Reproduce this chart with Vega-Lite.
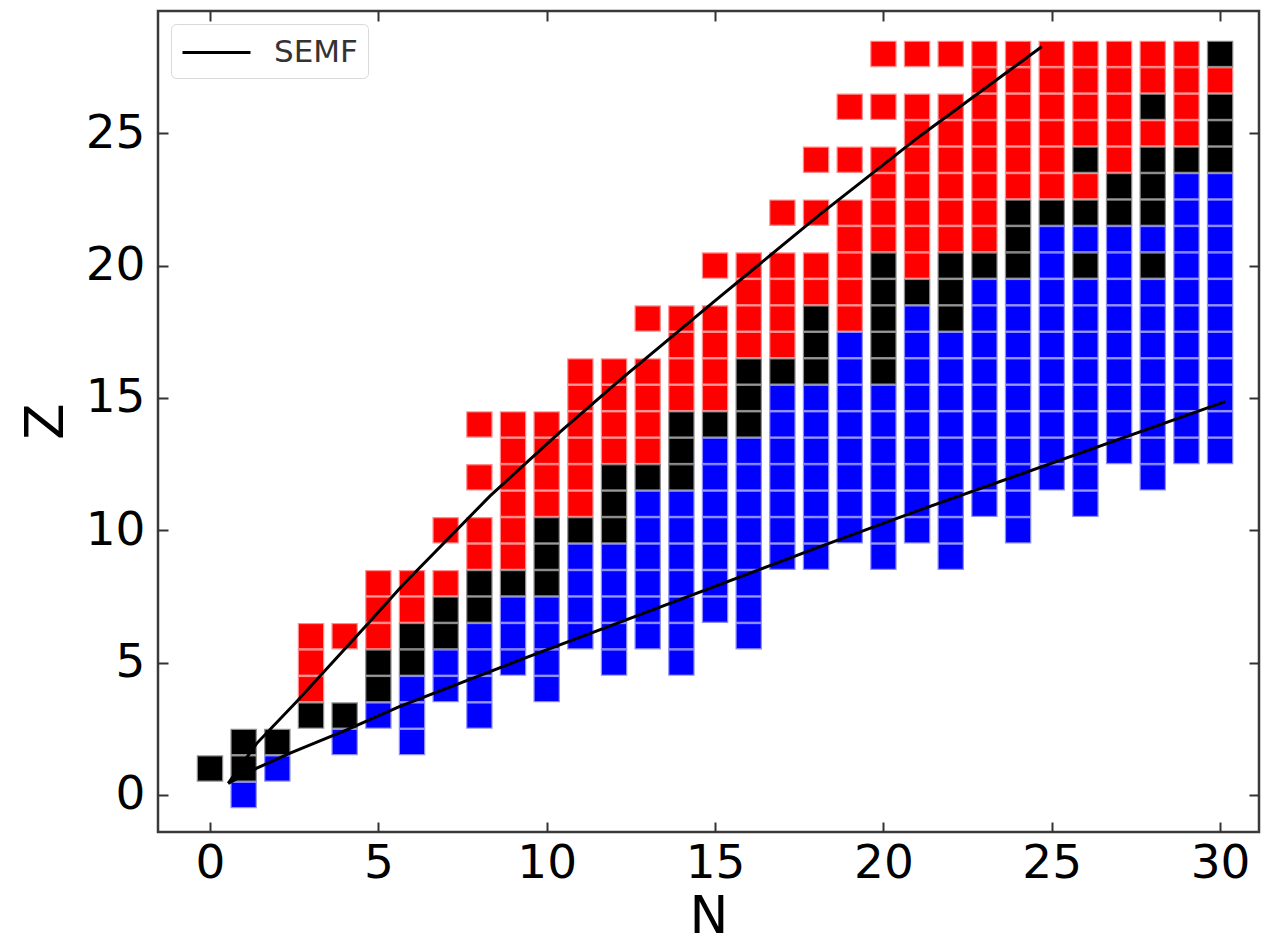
{
  "$schema": "https://vega.github.io/schema/vega-lite/v6.json",
  "width": 1101,
  "height": 821,
  "autosize": "none",
  "padding": {"left": 158, "top": 11, "right": 7, "bottom": 113},
  "background": "#ffffff",
  "config": {
    "view": {"stroke": "#3a3a3a", "strokeWidth": 2.5},
    "axis": {
      "grid": false, "domain": false, "ticks": true, "tickSize": 10, "tickWidth": 2, "tickColor": "#333333",
      "labelFont": "DejaVu Sans", "labelFontSize": 47, "labelColor": "#000000",
      "titleFont": "DejaVu Sans", "titleFontSize": 53, "titleFontWeight": "normal", "titleColor": "#000000",
      "offset": -10
    }
  },
  "datasets": {
    "nuclides": [
      {"N":0,"Z":1,"decay":"stable"},
      {"N":1,"Z":0,"decay":"beta-"},{"N":1,"Z":1,"decay":"stable"},{"N":1,"Z":2,"decay":"stable"},
      {"N":2,"Z":1,"decay":"beta-"},{"N":2,"Z":2,"decay":"stable"},
      {"N":3,"Z":3,"decay":"stable"},{"N":3,"Z":4,"decay":"beta+"},{"N":3,"Z":5,"decay":"beta+"},{"N":3,"Z":6,"decay":"beta+"},
      {"N":4,"Z":2,"decay":"beta-"},{"N":4,"Z":3,"decay":"stable"},{"N":4,"Z":6,"decay":"beta+"},
      {"N":5,"Z":3,"decay":"beta-"},{"N":5,"Z":4,"decay":"stable"},{"N":5,"Z":5,"decay":"stable"},{"N":5,"Z":6,"decay":"beta+"},{"N":5,"Z":7,"decay":"beta+"},{"N":5,"Z":8,"decay":"beta+"},
      {"N":6,"Z":2,"decay":"beta-"},{"N":6,"Z":3,"decay":"beta-"},{"N":6,"Z":4,"decay":"beta-"},{"N":6,"Z":5,"decay":"stable"},{"N":6,"Z":6,"decay":"stable"},{"N":6,"Z":7,"decay":"beta+"},{"N":6,"Z":8,"decay":"beta+"},
      {"N":7,"Z":4,"decay":"beta-"},{"N":7,"Z":5,"decay":"beta-"},{"N":7,"Z":6,"decay":"stable"},{"N":7,"Z":7,"decay":"stable"},{"N":7,"Z":8,"decay":"beta+"},{"N":7,"Z":10,"decay":"beta+"},
      {"N":8,"Z":3,"decay":"beta-"},{"N":8,"Z":4,"decay":"beta-"},{"N":8,"Z":5,"decay":"beta-"},{"N":8,"Z":6,"decay":"beta-"},{"N":8,"Z":7,"decay":"stable"},{"N":8,"Z":8,"decay":"stable"},{"N":8,"Z":9,"decay":"beta+"},{"N":8,"Z":10,"decay":"beta+"},{"N":8,"Z":12,"decay":"beta+"},{"N":8,"Z":14,"decay":"beta+"},
      {"N":9,"Z":5,"decay":"beta-"},{"N":9,"Z":6,"decay":"beta-"},{"N":9,"Z":7,"decay":"beta-"},{"N":9,"Z":8,"decay":"stable"},{"N":9,"Z":9,"decay":"beta+"},{"N":9,"Z":10,"decay":"beta+"},{"N":9,"Z":11,"decay":"beta+"},{"N":9,"Z":12,"decay":"beta+"},{"N":9,"Z":13,"decay":"beta+"},{"N":9,"Z":14,"decay":"beta+"},
      {"N":10,"Z":4,"decay":"beta-"},{"N":10,"Z":5,"decay":"beta-"},{"N":10,"Z":6,"decay":"beta-"},{"N":10,"Z":7,"decay":"beta-"},{"N":10,"Z":8,"decay":"stable"},{"N":10,"Z":9,"decay":"stable"},{"N":10,"Z":10,"decay":"stable"},{"N":10,"Z":11,"decay":"beta+"},{"N":10,"Z":12,"decay":"beta+"},{"N":10,"Z":13,"decay":"beta+"},{"N":10,"Z":14,"decay":"beta+"},
      {"N":11,"Z":6,"decay":"beta-"},{"N":11,"Z":7,"decay":"beta-"},{"N":11,"Z":8,"decay":"beta-"},{"N":11,"Z":9,"decay":"beta-"},{"N":11,"Z":10,"decay":"stable"},{"N":11,"Z":11,"decay":"beta+"},{"N":11,"Z":12,"decay":"beta+"},{"N":11,"Z":13,"decay":"beta+"},{"N":11,"Z":14,"decay":"beta+"},{"N":11,"Z":15,"decay":"beta+"},{"N":11,"Z":16,"decay":"beta+"},
      {"N":12,"Z":5,"decay":"beta-"},{"N":12,"Z":6,"decay":"beta-"},{"N":12,"Z":7,"decay":"beta-"},{"N":12,"Z":8,"decay":"beta-"},{"N":12,"Z":9,"decay":"beta-"},{"N":12,"Z":10,"decay":"stable"},{"N":12,"Z":11,"decay":"stable"},{"N":12,"Z":12,"decay":"stable"},{"N":12,"Z":13,"decay":"beta+"},{"N":12,"Z":14,"decay":"beta+"},{"N":12,"Z":15,"decay":"beta+"},{"N":12,"Z":16,"decay":"beta+"},
      {"N":13,"Z":6,"decay":"beta-"},{"N":13,"Z":7,"decay":"beta-"},{"N":13,"Z":8,"decay":"beta-"},{"N":13,"Z":9,"decay":"beta-"},{"N":13,"Z":10,"decay":"beta-"},{"N":13,"Z":11,"decay":"beta-"},{"N":13,"Z":12,"decay":"stable"},{"N":13,"Z":13,"decay":"beta+"},{"N":13,"Z":14,"decay":"beta+"},{"N":13,"Z":15,"decay":"beta+"},{"N":13,"Z":16,"decay":"beta+"},{"N":13,"Z":18,"decay":"beta+"},
      {"N":14,"Z":5,"decay":"beta-"},{"N":14,"Z":6,"decay":"beta-"},{"N":14,"Z":7,"decay":"beta-"},{"N":14,"Z":8,"decay":"beta-"},{"N":14,"Z":9,"decay":"beta-"},{"N":14,"Z":10,"decay":"beta-"},{"N":14,"Z":11,"decay":"beta-"},{"N":14,"Z":12,"decay":"stable"},{"N":14,"Z":13,"decay":"stable"},{"N":14,"Z":14,"decay":"stable"},{"N":14,"Z":15,"decay":"beta+"},{"N":14,"Z":16,"decay":"beta+"},{"N":14,"Z":17,"decay":"beta+"},{"N":14,"Z":18,"decay":"beta+"},
      {"N":15,"Z":7,"decay":"beta-"},{"N":15,"Z":8,"decay":"beta-"},{"N":15,"Z":9,"decay":"beta-"},{"N":15,"Z":10,"decay":"beta-"},{"N":15,"Z":11,"decay":"beta-"},{"N":15,"Z":12,"decay":"beta-"},{"N":15,"Z":13,"decay":"beta-"},{"N":15,"Z":14,"decay":"stable"},{"N":15,"Z":15,"decay":"beta+"},{"N":15,"Z":16,"decay":"beta+"},{"N":15,"Z":17,"decay":"beta+"},{"N":15,"Z":18,"decay":"beta+"},{"N":15,"Z":20,"decay":"beta+"},
      {"N":16,"Z":6,"decay":"beta-"},{"N":16,"Z":7,"decay":"beta-"},{"N":16,"Z":8,"decay":"beta-"},{"N":16,"Z":9,"decay":"beta-"},{"N":16,"Z":10,"decay":"beta-"},{"N":16,"Z":11,"decay":"beta-"},{"N":16,"Z":12,"decay":"beta-"},{"N":16,"Z":13,"decay":"beta-"},{"N":16,"Z":14,"decay":"stable"},{"N":16,"Z":15,"decay":"stable"},{"N":16,"Z":16,"decay":"stable"},{"N":16,"Z":17,"decay":"beta+"},{"N":16,"Z":18,"decay":"beta+"},{"N":16,"Z":19,"decay":"beta+"},{"N":16,"Z":20,"decay":"beta+"},
      {"N":17,"Z":9,"decay":"beta-"},{"N":17,"Z":10,"decay":"beta-"},{"N":17,"Z":11,"decay":"beta-"},{"N":17,"Z":12,"decay":"beta-"},{"N":17,"Z":13,"decay":"beta-"},{"N":17,"Z":14,"decay":"beta-"},{"N":17,"Z":15,"decay":"beta-"},{"N":17,"Z":16,"decay":"stable"},{"N":17,"Z":17,"decay":"beta+"},{"N":17,"Z":18,"decay":"beta+"},{"N":17,"Z":19,"decay":"beta+"},{"N":17,"Z":20,"decay":"beta+"},{"N":17,"Z":22,"decay":"beta+"},
      {"N":18,"Z":9,"decay":"beta-"},{"N":18,"Z":10,"decay":"beta-"},{"N":18,"Z":11,"decay":"beta-"},{"N":18,"Z":12,"decay":"beta-"},{"N":18,"Z":13,"decay":"beta-"},{"N":18,"Z":14,"decay":"beta-"},{"N":18,"Z":15,"decay":"beta-"},{"N":18,"Z":16,"decay":"stable"},{"N":18,"Z":17,"decay":"stable"},{"N":18,"Z":18,"decay":"stable"},{"N":18,"Z":19,"decay":"beta+"},{"N":18,"Z":20,"decay":"beta+"},{"N":18,"Z":22,"decay":"beta+"},{"N":18,"Z":24,"decay":"beta+"},
      {"N":19,"Z":10,"decay":"beta-"},{"N":19,"Z":11,"decay":"beta-"},{"N":19,"Z":12,"decay":"beta-"},{"N":19,"Z":13,"decay":"beta-"},{"N":19,"Z":14,"decay":"beta-"},{"N":19,"Z":15,"decay":"beta-"},{"N":19,"Z":16,"decay":"beta-"},{"N":19,"Z":17,"decay":"beta-"},{"N":19,"Z":18,"decay":"beta+"},{"N":19,"Z":19,"decay":"beta+"},{"N":19,"Z":20,"decay":"beta+"},{"N":19,"Z":21,"decay":"beta+"},{"N":19,"Z":22,"decay":"beta+"},{"N":19,"Z":24,"decay":"beta+"},{"N":19,"Z":26,"decay":"beta+"},
      {"N":20,"Z":9,"decay":"beta-"},{"N":20,"Z":10,"decay":"beta-"},{"N":20,"Z":11,"decay":"beta-"},{"N":20,"Z":12,"decay":"beta-"},{"N":20,"Z":13,"decay":"beta-"},{"N":20,"Z":14,"decay":"beta-"},{"N":20,"Z":15,"decay":"beta-"},{"N":20,"Z":16,"decay":"stable"},{"N":20,"Z":17,"decay":"stable"},{"N":20,"Z":18,"decay":"stable"},{"N":20,"Z":19,"decay":"stable"},{"N":20,"Z":20,"decay":"stable"},{"N":20,"Z":21,"decay":"beta+"},{"N":20,"Z":22,"decay":"beta+"},{"N":20,"Z":23,"decay":"beta+"},{"N":20,"Z":24,"decay":"beta+"},{"N":20,"Z":26,"decay":"beta+"},{"N":20,"Z":28,"decay":"beta+"},
      {"N":21,"Z":10,"decay":"beta-"},{"N":21,"Z":11,"decay":"beta-"},{"N":21,"Z":12,"decay":"beta-"},{"N":21,"Z":13,"decay":"beta-"},{"N":21,"Z":14,"decay":"beta-"},{"N":21,"Z":15,"decay":"beta-"},{"N":21,"Z":16,"decay":"beta-"},{"N":21,"Z":17,"decay":"beta-"},{"N":21,"Z":18,"decay":"beta-"},{"N":21,"Z":19,"decay":"stable"},{"N":21,"Z":20,"decay":"beta+"},{"N":21,"Z":21,"decay":"beta+"},{"N":21,"Z":22,"decay":"beta+"},{"N":21,"Z":23,"decay":"beta+"},{"N":21,"Z":24,"decay":"beta+"},{"N":21,"Z":25,"decay":"beta+"},{"N":21,"Z":26,"decay":"beta+"},{"N":21,"Z":28,"decay":"beta+"},
      {"N":22,"Z":9,"decay":"beta-"},{"N":22,"Z":10,"decay":"beta-"},{"N":22,"Z":11,"decay":"beta-"},{"N":22,"Z":12,"decay":"beta-"},{"N":22,"Z":13,"decay":"beta-"},{"N":22,"Z":14,"decay":"beta-"},{"N":22,"Z":15,"decay":"beta-"},{"N":22,"Z":16,"decay":"beta-"},{"N":22,"Z":17,"decay":"beta-"},{"N":22,"Z":18,"decay":"stable"},{"N":22,"Z":19,"decay":"stable"},{"N":22,"Z":20,"decay":"stable"},{"N":22,"Z":21,"decay":"beta+"},{"N":22,"Z":22,"decay":"beta+"},{"N":22,"Z":23,"decay":"beta+"},{"N":22,"Z":24,"decay":"beta+"},{"N":22,"Z":25,"decay":"beta+"},{"N":22,"Z":26,"decay":"beta+"},{"N":22,"Z":28,"decay":"beta+"},
      {"N":23,"Z":11,"decay":"beta-"},{"N":23,"Z":12,"decay":"beta-"},{"N":23,"Z":13,"decay":"beta-"},{"N":23,"Z":14,"decay":"beta-"},{"N":23,"Z":15,"decay":"beta-"},{"N":23,"Z":16,"decay":"beta-"},{"N":23,"Z":17,"decay":"beta-"},{"N":23,"Z":18,"decay":"beta-"},{"N":23,"Z":19,"decay":"beta-"},{"N":23,"Z":20,"decay":"stable"},{"N":23,"Z":21,"decay":"beta+"},{"N":23,"Z":22,"decay":"beta+"},{"N":23,"Z":23,"decay":"beta+"},{"N":23,"Z":24,"decay":"beta+"},{"N":23,"Z":25,"decay":"beta+"},{"N":23,"Z":26,"decay":"beta+"},{"N":23,"Z":27,"decay":"beta+"},{"N":23,"Z":28,"decay":"beta+"},
      {"N":24,"Z":10,"decay":"beta-"},{"N":24,"Z":11,"decay":"beta-"},{"N":24,"Z":12,"decay":"beta-"},{"N":24,"Z":13,"decay":"beta-"},{"N":24,"Z":14,"decay":"beta-"},{"N":24,"Z":15,"decay":"beta-"},{"N":24,"Z":16,"decay":"beta-"},{"N":24,"Z":17,"decay":"beta-"},{"N":24,"Z":18,"decay":"beta-"},{"N":24,"Z":19,"decay":"beta-"},{"N":24,"Z":20,"decay":"stable"},{"N":24,"Z":21,"decay":"stable"},{"N":24,"Z":22,"decay":"stable"},{"N":24,"Z":23,"decay":"beta+"},{"N":24,"Z":24,"decay":"beta+"},{"N":24,"Z":25,"decay":"beta+"},{"N":24,"Z":26,"decay":"beta+"},{"N":24,"Z":27,"decay":"beta+"},{"N":24,"Z":28,"decay":"beta+"},
      {"N":25,"Z":12,"decay":"beta-"},{"N":25,"Z":13,"decay":"beta-"},{"N":25,"Z":14,"decay":"beta-"},{"N":25,"Z":15,"decay":"beta-"},{"N":25,"Z":16,"decay":"beta-"},{"N":25,"Z":17,"decay":"beta-"},{"N":25,"Z":18,"decay":"beta-"},{"N":25,"Z":19,"decay":"beta-"},{"N":25,"Z":20,"decay":"beta-"},{"N":25,"Z":21,"decay":"beta-"},{"N":25,"Z":22,"decay":"stable"},{"N":25,"Z":23,"decay":"beta+"},{"N":25,"Z":24,"decay":"beta+"},{"N":25,"Z":25,"decay":"beta+"},{"N":25,"Z":26,"decay":"beta+"},{"N":25,"Z":27,"decay":"beta+"},{"N":25,"Z":28,"decay":"beta+"},
      {"N":26,"Z":11,"decay":"beta-"},{"N":26,"Z":12,"decay":"beta-"},{"N":26,"Z":13,"decay":"beta-"},{"N":26,"Z":14,"decay":"beta-"},{"N":26,"Z":15,"decay":"beta-"},{"N":26,"Z":16,"decay":"beta-"},{"N":26,"Z":17,"decay":"beta-"},{"N":26,"Z":18,"decay":"beta-"},{"N":26,"Z":19,"decay":"beta-"},{"N":26,"Z":20,"decay":"stable"},{"N":26,"Z":21,"decay":"beta-"},{"N":26,"Z":22,"decay":"stable"},{"N":26,"Z":23,"decay":"beta+"},{"N":26,"Z":24,"decay":"stable"},{"N":26,"Z":25,"decay":"beta+"},{"N":26,"Z":26,"decay":"beta+"},{"N":26,"Z":27,"decay":"beta+"},{"N":26,"Z":28,"decay":"beta+"},
      {"N":27,"Z":13,"decay":"beta-"},{"N":27,"Z":14,"decay":"beta-"},{"N":27,"Z":15,"decay":"beta-"},{"N":27,"Z":16,"decay":"beta-"},{"N":27,"Z":17,"decay":"beta-"},{"N":27,"Z":18,"decay":"beta-"},{"N":27,"Z":19,"decay":"beta-"},{"N":27,"Z":20,"decay":"beta-"},{"N":27,"Z":21,"decay":"beta-"},{"N":27,"Z":22,"decay":"stable"},{"N":27,"Z":23,"decay":"stable"},{"N":27,"Z":24,"decay":"beta+"},{"N":27,"Z":25,"decay":"beta+"},{"N":27,"Z":26,"decay":"beta+"},{"N":27,"Z":27,"decay":"beta+"},{"N":27,"Z":28,"decay":"beta+"},
      {"N":28,"Z":12,"decay":"beta-"},{"N":28,"Z":13,"decay":"beta-"},{"N":28,"Z":14,"decay":"beta-"},{"N":28,"Z":15,"decay":"beta-"},{"N":28,"Z":16,"decay":"beta-"},{"N":28,"Z":17,"decay":"beta-"},{"N":28,"Z":18,"decay":"beta-"},{"N":28,"Z":19,"decay":"beta-"},{"N":28,"Z":20,"decay":"stable"},{"N":28,"Z":21,"decay":"beta-"},{"N":28,"Z":22,"decay":"stable"},{"N":28,"Z":23,"decay":"stable"},{"N":28,"Z":24,"decay":"stable"},{"N":28,"Z":25,"decay":"beta+"},{"N":28,"Z":26,"decay":"stable"},{"N":28,"Z":27,"decay":"beta+"},{"N":28,"Z":28,"decay":"beta+"},
      {"N":29,"Z":13,"decay":"beta-"},{"N":29,"Z":14,"decay":"beta-"},{"N":29,"Z":15,"decay":"beta-"},{"N":29,"Z":16,"decay":"beta-"},{"N":29,"Z":17,"decay":"beta-"},{"N":29,"Z":18,"decay":"beta-"},{"N":29,"Z":19,"decay":"beta-"},{"N":29,"Z":20,"decay":"beta-"},{"N":29,"Z":21,"decay":"beta-"},{"N":29,"Z":22,"decay":"beta-"},{"N":29,"Z":23,"decay":"beta-"},{"N":29,"Z":24,"decay":"stable"},{"N":29,"Z":25,"decay":"beta+"},{"N":29,"Z":26,"decay":"beta+"},{"N":29,"Z":27,"decay":"beta+"},{"N":29,"Z":28,"decay":"beta+"},
      {"N":30,"Z":13,"decay":"beta-"},{"N":30,"Z":14,"decay":"beta-"},{"N":30,"Z":15,"decay":"beta-"},{"N":30,"Z":16,"decay":"beta-"},{"N":30,"Z":17,"decay":"beta-"},{"N":30,"Z":18,"decay":"beta-"},{"N":30,"Z":19,"decay":"beta-"},{"N":30,"Z":20,"decay":"beta-"},{"N":30,"Z":21,"decay":"beta-"},{"N":30,"Z":22,"decay":"beta-"},{"N":30,"Z":23,"decay":"beta-"},{"N":30,"Z":24,"decay":"stable"},{"N":30,"Z":25,"decay":"stable"},{"N":30,"Z":26,"decay":"stable"},{"N":30,"Z":27,"decay":"beta+"},{"N":30,"Z":28,"decay":"stable"}
    ],
    "semf": [
      {"N":0.54,"Z":0.44,"branch":"upper","label":"SEMF"},
      {"N":1.39,"Z":1.95,"branch":"upper","label":"SEMF"},
      {"N":2.57,"Z":3.52,"branch":"upper","label":"SEMF"},
      {"N":4.75,"Z":6.55,"branch":"upper","label":"SEMF"},
      {"N":5.74,"Z":7.95,"branch":"upper","label":"SEMF"},
      {"N":8.32,"Z":11.30,"branch":"upper","label":"SEMF"},
      {"N":10.40,"Z":13.72,"branch":"upper","label":"SEMF"},
      {"N":12.18,"Z":15.68,"branch":"upper","label":"SEMF"},
      {"N":14.95,"Z":18.62,"branch":"upper","label":"SEMF"},
      {"N":18.09,"Z":21.91,"branch":"upper","label":"SEMF"},
      {"N":21.09,"Z":24.90,"branch":"upper","label":"SEMF"},
      {"N":24.70,"Z":28.27,"branch":"upper","label":"SEMF"},
      {"N":0.54,"Z":0.44,"branch":"lower","label":"SEMF"},
      {"N":1.39,"Z":1.01,"branch":"lower","label":"SEMF"},
      {"N":2.38,"Z":1.58,"branch":"lower","label":"SEMF"},
      {"N":4.06,"Z":2.46,"branch":"lower","label":"SEMF"},
      {"N":5.64,"Z":3.35,"branch":"lower","label":"SEMF"},
      {"N":9.21,"Z":5.10,"branch":"lower","label":"SEMF"},
      {"N":18.12,"Z":9.38,"branch":"lower","label":"SEMF"},
      {"N":21.09,"Z":10.77,"branch":"lower","label":"SEMF"},
      {"N":30.15,"Z":14.86,"branch":"lower","label":"SEMF"}
    ]
  },
  "layer": [
    {
      "data": {"name": "nuclides"},
      "mark": {"type": "point", "shape": "square", "filled": true, "size": 576, "opacity": 1, "strokeWidth": 2.5, "strokeOpacity": 0.45},
      "encoding": {
        "x": {"field": "N", "type": "quantitative", "scale": {"domain": [-1.544, 31.155], "nice": false, "zero": false},
              "axis": {"orient": "bottom", "values": [0,5,10,15,20,25,30], "labelPadding": 8, "title": "N", "titleBaseline": "alphabetic", "titleY": 110, "titleFontSize": 52}},
        "y": {"field": "Z", "type": "quantitative", "scale": {"domain": [-1.40, 29.62], "nice": false, "zero": false},
              "axis": {"orient": "left", "values": [0,5,10,15,20,25], "labelPadding": 13, "title": "Z", "titleBaseline": "alphabetic", "titleX": -106, "titleY": 410}},
        "color": {"field": "decay", "type": "nominal", "scale": {"domain": ["beta+","stable","beta-"], "range": ["#ff0000","#000000","#0000ff"]}, "legend": null},
        "stroke": {"field": "decay", "type": "nominal", "scale": {"domain": ["beta+","stable","beta-"], "range": ["#ff0000","#000000","#0000ff"]}, "legend": null}
      }
    },
    {
      "data": {"name": "semf"},
      "mark": {"type": "line", "strokeWidth": 3},
      "encoding": {
        "x": {"field": "N", "type": "quantitative", "scale": {"domain": [-1.544, 31.155], "nice": false, "zero": false},
              "axis": {"orient": "top", "values": [0,5,10,15,20,25,30], "labels": false, "title": null}},
        "y": {"field": "Z", "type": "quantitative", "scale": {"domain": [-1.40, 29.62], "nice": false, "zero": false},
              "axis": {"orient": "right", "values": [0,5,10,15,20,25], "labels": false, "title": null}},
        "detail": {"field": "branch", "type": "nominal"},
        "color": {"field": "label", "type": "nominal", "scale": {"domain": ["SEMF"], "range": ["#000000"]},
                  "legend": {"title": null, "orient": "top-left", "offset": 13, "symbolType": "M-2,0H2", "symbolSize": 1156, "symbolStrokeWidth": 3,
                             "labelFont": "DejaVu Sans", "labelFontSize": 31, "labelColor": "#333333", "padding": 10,
                             "strokeColor": "#d9d9d9", "fillColor": "#ffffff", "cornerRadius": 5, "symbolOffset": 17, "labelOffset": 39}}
      }
    }
  ],
  "resolve": {"scale": {"color": "independent"}, "axis": {"x": "independent", "y": "independent"}}
}
